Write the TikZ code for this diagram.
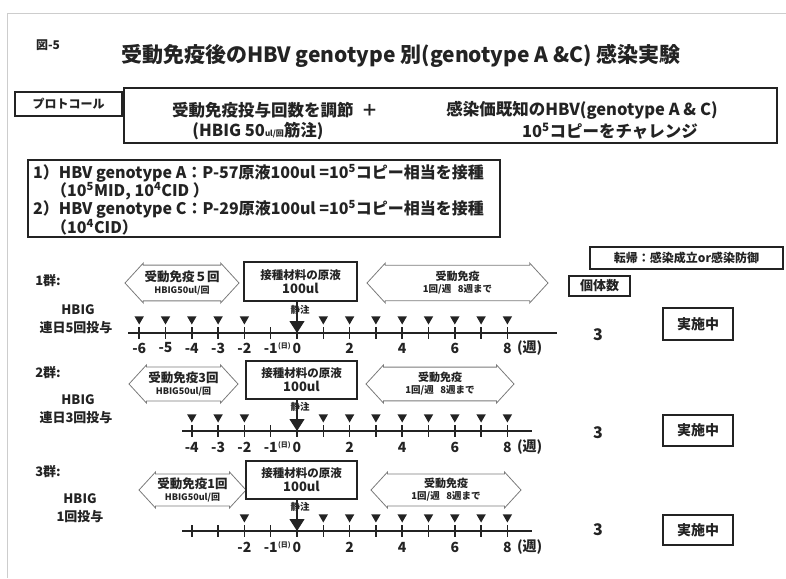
\documentclass[tikz,border=0pt]{standalone}
\usepackage{fontspec}
\setmainfont{Noto Sans CJK JP}
\usetikzlibrary{shapes.arrows,shapes.geometric,arrows.meta,positioning}
\definecolor{inkgray}{RGB}{35,35,35}
\definecolor{framegray}{RGB}{205,205,205}

\begin{document}
\begin{tikzpicture}[x=1pt,y=-1pt,
        box/.style={draw=inkgray,line width=1.1pt,inner sep=0pt,align=center,
                    text=inkgray,font=\bfseries\fontsize{12}{14}\selectfont},
        hexa/.style={double arrow,draw=inkgray!60,line width=0.8pt,
                     double arrow tip angle=95,double arrow head extend=1.5pt,
                     inner sep=0pt,align=center,text=inkgray},
        lbl/.style={text=inkgray,inner sep=0pt,font=\bfseries\fontsize{13}{15}\selectfont},
        plbl/.style={lbl,font=\bfseries\fontsize{16.5}{18}\selectfont},
        glbl/.style={lbl,anchor=west,font=\bfseries\fontsize{16}{18}\selectfont},
        num/.style={text=inkgray,inner sep=0pt,font=\bfseries\fontsize{14}{15}\selectfont},
        supn/.style={text=inkgray,inner sep=0pt,font=\bfseries\fontsize{7}{8}\selectfont},
        tri/.style={regular polygon,regular polygon sides=3,regular polygon rotate=180,
                    fill=inkgray,inner sep=0pt,minimum size=11pt},
        arrow/.style={-{Triangle[width=15pt,length=12pt]},line width=1.2pt,inkgray},
        axis/.style={line width=1.5pt,inkgray},
        done/.style={box,font=\bfseries\fontsize{14}{16}\selectfont}
    ]
        \useasboundingbox (0,0) rectangle (786,578);
        \draw[framegray,line width=0.8pt] (7,578) -- (7,13) -- (786,13);

        % heading
        \node[lbl,font=\bfseries\fontsize{12}{13}\selectfont] (fig) at (48,45) {図-5};
        \node[lbl,font=\bfseries\fontsize{21}{24}\selectfont] (title) at (401,56)
            {受動免疫後のHBV genotype 別(genotype A \&C) 感染実験};

        % protocol
        \node[box,minimum width=653pt,minimum height=55pt] (plan) at (450.5,115.5) {};
        \node[box,minimum width=107pt,minimum height=24pt] (proto) at (68.5,104) {プロトコール};
        \node[plbl] (p1) at (275,110) {受動免疫投与回数を調節\ \ ＋};
        \node[plbl] (p2) at (582,110) {感染価既知のHBV(genotype A \& C)};
        \node[plbl] (p3) at (258,131) {(HBIG 50{\fontsize{8}{9}\selectfont ul/回}筋注)};
        \node[plbl] (p4) at (610,131) {10\textsuperscript{5}コピーをチャレンジ};

        % inocula
        \node[box,minimum width=472pt,minimum height=77pt] (inoc) at (264,198.5) {};
        \node[glbl] (i1) at (33,173)
            {1）HBV genotype A：P-57原液100ul =10\textsuperscript{5}コピー相当を接種};
        \node[glbl] (i2) at (51,191) {（10\textsuperscript{5}MID, 10\textsuperscript{4}CID ）};
        \node[glbl] (i3) at (33,209)
            {2）HBV genotype C：P-29原液100ul =10\textsuperscript{5}コピー相当を接種};
        \node[glbl] (i4) at (51,227) {（10\textsuperscript{4}CID）};

        % right column
        \node[box,minimum width=193pt,minimum height=22pt] (outcome) at (686.5,258) {転帰：感染成立or感染防御};
        \node[box,minimum width=61pt,minimum height=20pt,font=\bfseries\fontsize{13}{15}\selectfont] (count) at (599.5,286) {個体数};

        % group 1
        \node[lbl] (g1) at (48,281) {1群:};
        \node[lbl] (g1h) at (78,310) {HBIG};
        \node[lbl] (g1d) at (76,328) {連日5回投与};
        \node[hexa,minimum height=114pt,minimum width=40pt] (g1pre) at (182,283)
            {\fontsize{12.5}{14}\bfseries\selectfont 受動免疫５回\\\fontsize{9}{11}\bfseries\selectfont HBIG50ul/回};
        \node[box,minimum width=113pt,minimum height=39pt] (g1src) at (300.5,281.5)
            {\fontsize{11.5}{14}\bfseries\selectfont 接種材料の原液\\\fontsize{13}{15}\bfseries\selectfont 100ul};
        \node[hexa,minimum height=181pt,minimum width=40pt] (g1post) at (457.5,283)
            {\fontsize{11}{13}\bfseries\selectfont 受動免疫\\\fontsize{9.5}{11}\bfseries\selectfont 1回/週\ \ \ 8週まで};
        \draw[axis] (128,333) -- (557,333);
        \foreach \k in {-6,...,8}
            \draw[axis] ({297+26.3*\k},327) -- ({297+26.3*\k},339);
        \foreach \k in {-6,-5,-4,-3,-2,1,2,3,4,5,6,7,8}
            \node[tri] (g1t\k) at ({297+26.3*\k},319) {};
        \coordinate (g1z) at (297,333);
        \draw[arrow] (g1src.south -| g1z) -- (g1z);
        \node[supn,font=\bfseries\fontsize{9.5}{10}\selectfont] (g1iv) at (300,310) {静注};
        \foreach \k in {-6,-5,-4,-3,-2,0,2,4,6,8}
            \node[num] (g1n\k) at ({297+26.3*\k},348) {\k};
        \node[num] (g1nm) at (270.7,348) {-1};
        \node[supn,anchor=north west] (g1day) at (g1nm.north east) {(日)};
        \node[num,anchor=west] (g1wk) at ([xshift=5pt]g1n8.east) {(週)};
        \node[num,font=\bfseries\fontsize{16}{18}\selectfont] (c1) at (598,335) {3};
        \node[done,minimum width=70pt,minimum height=32pt] (s1) at (698,324) {実施中};

        % group 2
        \node[lbl] (g2) at (48,373) {2群:};
        \node[lbl] (g2h) at (78,400) {HBIG};
        \node[lbl] (g2d) at (76,418) {連日3回投与};
        \node[hexa,minimum height=109pt,minimum width=38pt] (g2pre) at (183.5,384)
            {\fontsize{12.5}{14}\bfseries\selectfont 受動免疫3回\\\fontsize{9}{11}\bfseries\selectfont HBIG50ul/回};
        \node[box,minimum width=111pt,minimum height=38pt] (g2src) at (301.5,380)
            {\fontsize{11.5}{14}\bfseries\selectfont 接種材料の原液\\\fontsize{13}{15}\bfseries\selectfont 100ul};
        \node[hexa,minimum height=148pt,minimum width=38pt] (g2post) at (440,384)
            {\fontsize{11}{13}\bfseries\selectfont 受動免疫\\\fontsize{9.5}{11}\bfseries\selectfont 1回/週\ \ \ 8週まで};
        \draw[axis] (182,431) -- (532,431);
        \foreach \k in {-4,...,8}
            \draw[axis] ({297+26.3*\k},425) -- ({297+26.3*\k},437);
        \foreach \k in {-4,-3,-2,1,2,3,4,5,6,7,8}
            \node[tri] (g2t\k) at ({297+26.3*\k},417) {};
        \coordinate (g2z) at (297,431);
        \draw[arrow] (g2src.south -| g2z) -- (g2z);
        \node[supn,font=\bfseries\fontsize{9.5}{10}\selectfont] (g2iv) at (300,407) {静注};
        \foreach \k in {-4,-3,-2,0,2,4,6,8}
            \node[num] (g2n\k) at ({297+26.3*\k},447) {\k};
        \node[num] (g2nm) at (270.7,447) {-1};
        \node[supn,anchor=north west] (g2day) at (g2nm.north east) {(日)};
        \node[num,anchor=west] (g2wk) at ([xshift=5pt]g2n8.east) {(週)};
        \node[num,font=\bfseries\fontsize{16}{18}\selectfont] (c2) at (598,433) {3};
        \node[done,minimum width=70pt,minimum height=31pt] (s2) at (698,430.5) {実施中};

        % group 3
        \node[lbl] (g3) at (48,472) {3群:};
        \node[lbl] (g3h) at (80,499) {HBIG};
        \node[lbl] (g3d) at (80,517) {1回投与};
        \node[hexa,minimum height=107pt,minimum width=36pt] (g3pre) at (192.5,490)
            {\fontsize{12.5}{14}\bfseries\selectfont 受動免疫1回\\\fontsize{9}{11}\bfseries\selectfont HBIG50ul/回};
        \node[box,minimum width=111pt,minimum height=38pt] (g3src) at (301.5,480)
            {\fontsize{11.5}{14}\bfseries\selectfont 接種材料の原液\\\fontsize{13}{15}\bfseries\selectfont 100ul};
        \node[hexa,minimum height=150pt,minimum width=36pt] (g3post) at (446,490)
            {\fontsize{11}{13}\bfseries\selectfont 受動免疫\\\fontsize{9.5}{11}\bfseries\selectfont 1回/週\ \ \ 8週まで};
        \draw[axis] (182,531) -- (532,531);
        \foreach \k in {-4,...,8}
            \draw[axis] ({297+26.3*\k},525) -- ({297+26.3*\k},537);
        \foreach \k in {-2,1,2,3,4,5,6,7,8}
            \node[tri] (g3t\k) at ({297+26.3*\k},517) {};
        \coordinate (g3z) at (297,531);
        \draw[arrow] (g3src.south -| g3z) -- (g3z);
        \node[supn,font=\bfseries\fontsize{9.5}{10}\selectfont] (g3iv) at (300,507) {静注};
        \foreach \k in {-2,0,2,4,6,8}
            \node[num] (g3n\k) at ({297+26.3*\k},547) {\k};
        \node[num] (g3nm) at (270.7,547) {-1};
        \node[supn,anchor=north west] (g3day) at (g3nm.north east) {(日)};
        \node[num,anchor=west] (g3wk) at ([xshift=5pt]g3n8.east) {(週)};
        \node[num,font=\bfseries\fontsize{16}{18}\selectfont] (c3) at (598,530) {3};
        \node[done,minimum width=70pt,minimum height=30pt] (s3) at (698,530) {実施中};
    \end{tikzpicture}
\end{document}
